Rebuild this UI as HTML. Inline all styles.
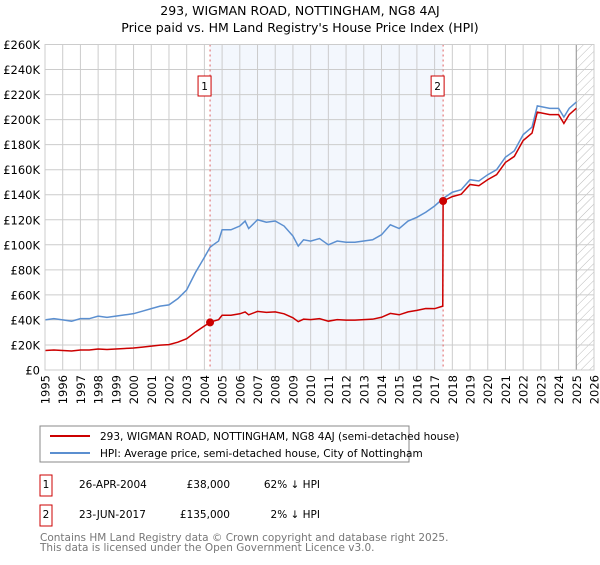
<!DOCTYPE html>
<html><head><meta charset="utf-8"><style>
body{margin:0;background:#fff;font-family:"Liberation Sans","DejaVu Sans",sans-serif}
svg text{font-family:"DejaVu Sans","Liberation Sans",sans-serif}
</style></head><body>
<svg id="c" width="600" height="560" xmlns="http://www.w3.org/2000/svg">
<text x="300" y="15" text-anchor="middle" font-size="12.5" fill="#000">293, WIGMAN ROAD, NOTTINGHAM, NG8 4AJ</text>
<text x="300" y="32" text-anchor="middle" font-size="12.5" fill="#000">Price paid vs. HM Land Registry's House Price Index (HPI)</text>
<defs><pattern id="hatch" width="6" height="6" patternUnits="userSpaceOnUse" patternTransform="rotate(45)"><line x1="0" y1="0" x2="0" y2="6" stroke="#bbb" stroke-width="1"/></pattern></defs>
<g id="plot"></g>
<rect x="40" y="426" width="369" height="36" fill="#fff" stroke="#888"/>
<line x1="50" y1="436" x2="90" y2="436" stroke="#cc0000" stroke-width="2"/>
<text x="100" y="440" font-size="10.5">293, WIGMAN ROAD, NOTTINGHAM, NG8 4AJ (semi-detached house)</text>
<line x1="50" y1="453" x2="90" y2="453" stroke="#5b8fd0" stroke-width="2"/>
<text x="100" y="457" font-size="10.5">HPI: Average price, semi-detached house, City of Nottingham</text>
<rect x="40" y="475" width="12" height="21" fill="none" stroke="#cc0000"/>
<text x="46" y="488" font-size="10.5" text-anchor="middle">1</text>
<text x="79" y="488" font-size="10.5">26-APR-2004</text>
<text x="230" y="488" font-size="10.5" text-anchor="end">£38,000</text>
<text x="320" y="488" font-size="10.5" text-anchor="end">62% ↓ HPI</text>
<rect x="40" y="505" width="12" height="21" fill="none" stroke="#cc0000"/>
<text x="46" y="518" font-size="10.5" text-anchor="middle">2</text>
<text x="79" y="518" font-size="10.5">23-JUN-2017</text>
<text x="230" y="518" font-size="10.5" text-anchor="end">£135,000</text>
<text x="320" y="518" font-size="10.5" text-anchor="end">2% ↓ HPI</text>
<text x="40" y="541" font-size="10.5" fill="#777">Contains HM Land Registry data © Crown copyright and database right 2025.</text>
<text x="40" y="551" font-size="10.5" fill="#777">This data is licensed under the Open Government Licence v3.0.</text>
</svg>
<script>
const hpiT=[1995,1995.5,1996,1996.5,1997,1997.5,1998,1998.5,1999,1999.5,2000,2000.5,2001,2001.5,2002,2002.5,2003,2003.5,2004,2004.32,2004.5,2004.8,2005,2005.5,2006,2006.3,2006.5,2007,2007.5,2008,2008.5,2009,2009.3,2009.6,2010,2010.5,2011,2011.5,2012,2012.5,2013,2013.5,2014,2014.5,2015,2015.5,2016,2016.5,2017,2017.48,2018,2018.5,2019,2019.5,2020,2020.5,2021,2021.5,2022,2022.5,2022.8,2023.5,2024,2024.3,2024.6,2025];
const hpiV=[40,41,40,39,41,41,43,42,43,44,45,47,49,51,52,57,64,78,90,98,100,103,112,112,115,119,113,120,118,119,115,107,99,104,103,105,100,103,102,102,103,104,108,116,113,119,122,126,131,137,142,144,152,151,156,160,170,175,188,194,211,209,209,202,209,214];
const redT=[1995,1995.5,1996,1996.5,1997,1997.5,1998,1998.5,1999,1999.5,2000,2000.5,2001,2001.5,2002,2002.5,2003,2003.5,2004,2004.32,2004.5,2004.8,2005,2005.5,2006,2006.3,2006.5,2007,2007.5,2008,2008.5,2009,2009.3,2009.6,2010,2010.5,2011,2011.5,2012,2012.5,2013,2013.5,2014,2014.5,2015,2015.5,2016,2016.5,2017,2017.46,2017.48,2018,2018.5,2019,2019.5,2020,2020.5,2021,2021.5,2022,2022.5,2022.8,2023.5,2024,2024.3,2024.6,2025];
const redV=[15.6,16,15.6,15.2,16,16,16.8,16.4,16.8,17.2,17.6,18.3,19.1,19.9,20.3,22.2,25,30.4,35.1,38,39,40.2,43.7,43.7,44.9,46.4,44.1,46.8,46,46.4,44.9,41.7,38.6,40.6,40.2,41,39,40.2,39.8,39.8,40.2,40.6,42.1,45.2,44.1,46.4,47.6,49.1,49,51,135,138.5,140.4,148.2,147.2,152.1,156,165.8,170.6,183.3,189.2,206,204,204,197,204,209];
const saleT=[2004.32,2017.48];
const saleV=[38,135];
const saleLabels=["1","2"];
const yTicks=[0,20,40,60,80,100,120,140,160,180,200,220,240,260];
const xTicks=[1995,1996,1997,1998,1999,2000,2001,2002,2003,2004,2005,2006,2007,2008,2009,2010,2011,2012,2013,2014,2015,2016,2017,2018,2019,2020,2021,2022,2023,2024,2025,2026];
const X0=45,X1=594,Y0=370,Y1=44.5;
const x=t=>X0+(t-1995)/31*(X1-X0);
const y=v=>Y0-v/260*(Y0-Y1);
const NS="http://www.w3.org/2000/svg";
const g=document.getElementById('plot');
function mk(tag,at){const e=document.createElementNS(NS,tag);for(const k in at)e.setAttribute(k,at[k]);g.appendChild(e);return e;}
let e;
e=mk('rect',{x:x(saleT[0]),y:Y1,width:x(saleT[1])-x(saleT[0]),height:Y0-Y1,fill:'#eef3fc',opacity:0.7});


e=mk('rect',{x:x(2025),y:Y1,width:X1-x(2025),height:Y0-Y1,fill:'url(#hatch)'});


xTicks.forEach(t=>{
 e=mk('line',{x1:x(t),x2:x(t),y1:Y1,y2:Y0,stroke:'#ccc','stroke-width':1});
 
 
 const tx=x(t)+4.5;
 e=mk('text',{x:tx,y:375,'text-anchor':'end','font-size':'11.5',transform:'rotate(-90 '+tx+' 375)'});e.textContent=t;
 
 
});
yTicks.forEach(v=>{
 e=mk('line',{x1:X0,x2:X1,y1:y(v),y2:y(v),stroke:'#ccc','stroke-width':1});
 
 
 e=mk('text',{x:40,y:y(v)+4.5,'text-anchor':'end','font-size':'11.5'});e.textContent=v===0?'£0':'£'+v+'K';
 
 
});
e=mk('line',{x1:x(2025),x2:x(2025),y1:Y1,y2:Y0,stroke:'#999','stroke-width':1});


saleT.forEach((t,i)=>{
 e=mk('line',{x1:x(t),x2:x(t),y1:Y1,y2:Y0,stroke:'#e06060','stroke-width':1,'stroke-dasharray':'2,3'});
 
 
});
e=mk('polyline',{points:hpiT.map((t,i)=>x(t)+','+y(hpiV[i])).join(' '),fill:'none',stroke:'#5b8fd0','stroke-width':1.5});


e=mk('polyline',{points:redT.map((t,i)=>x(t)+','+y(redV[i])).join(' '),fill:'none',stroke:'#cc0000','stroke-width':1.5});


saleT.forEach((t,i)=>{
 e=mk('circle',{cx:x(t),cy:y(saleV[i]),r:4,fill:'#cc0000'});
 
 
 e=mk('rect',{x:x(t)-12,y:76,width:13,height:20,fill:'#fff',stroke:'#cc0000'});
 
 
 e=mk('text',{x:x(t)-5.5,y:90,'text-anchor':'middle','font-size':'10.5'});e.textContent=saleLabels[i];
 
 
});
e=mk('rect',{x:X0,y:Y1,width:X1-X0,height:Y0-Y1,fill:'none',stroke:'#ccc'});


</script>
</body></html>
